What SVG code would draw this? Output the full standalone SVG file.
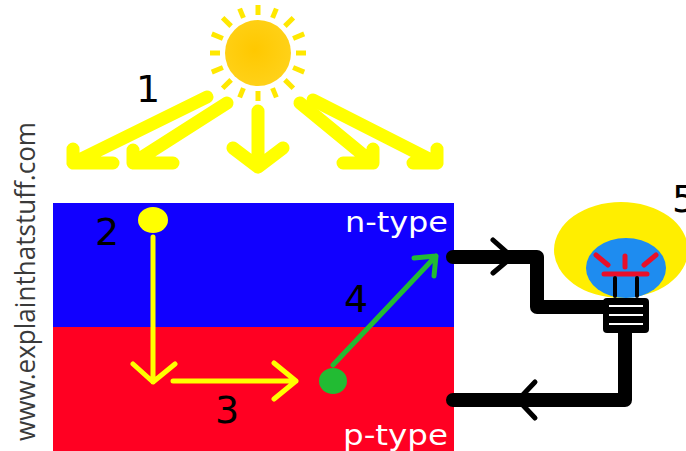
<svg xmlns="http://www.w3.org/2000/svg" width="686" height="451" viewBox="0 0 686 451">
  <defs>
    <radialGradient id="sunFill" cx="0.45" cy="0.45" r="0.6">
      <stop offset="0" stop-color="#FFC800"/>
      <stop offset="1" stop-color="#FFD21A"/>
    </radialGradient>
    <style>
      .num { font-family: "DejaVu Sans", "Liberation Sans", sans-serif; font-size: 38px; fill: #000; }
      .type { font-family: "DejaVu Sans", "Liberation Sans", sans-serif; font-size: 28px; fill: #fff; }
      .beam { fill: none; stroke: #FFFF00; stroke-width: 13; stroke-linecap: round; stroke-linejoin: round; }
      .ray { stroke: #FFE800; stroke-width: 5; }
      .path-y { fill: none; stroke: #FFFF00; stroke-width: 5; stroke-linecap: round; stroke-linejoin: round; }
      .path-g { fill: none; stroke: #22BB33; stroke-width: 5; stroke-linecap: round; stroke-linejoin: round; }
      .wire { fill: none; stroke: #000; stroke-width: 14; stroke-linecap: round; stroke-linejoin: round; }
      .chev { fill: none; stroke: #000; stroke-width: 5; stroke-linecap: round; stroke-linejoin: round; }
    </style>
  </defs>

  <rect width="686" height="451" fill="#fff"/>

  <!-- watermark -->
  <text x="0" y="0" transform="translate(35,441) rotate(-90)" font-family="'Open Sans', 'DejaVu Sans', sans-serif" font-size="27" fill="#3a3a3a" textLength="319" lengthAdjust="spacingAndGlyphs">www.explainthatstuff.com</text>

  <!-- sun -->
  <g id="sun">
    <g transform="translate(258,53)">
      <g class="ray">
        <line x1="0" y1="-38" x2="0" y2="-48"/>
        <line x1="0" y1="-38" x2="0" y2="-48" transform="rotate(22.5)"/>
        <line x1="0" y1="-38" x2="0" y2="-50" transform="rotate(45)"/>
        <line x1="0" y1="-38" x2="0" y2="-50" transform="rotate(67.5)"/>
        <line x1="0" y1="-38" x2="0" y2="-48" transform="rotate(90)"/>
        <line x1="0" y1="-38" x2="0" y2="-50" transform="rotate(112.5)"/>
        <line x1="0" y1="-38" x2="0" y2="-50" transform="rotate(135)"/>
        <line x1="0" y1="-38" x2="0" y2="-48" transform="rotate(157.5)"/>
        <line x1="0" y1="-38" x2="0" y2="-48" transform="rotate(180)"/>
        <line x1="0" y1="-38" x2="0" y2="-48" transform="rotate(202.5)"/>
        <line x1="0" y1="-38" x2="0" y2="-50" transform="rotate(225)"/>
        <line x1="0" y1="-38" x2="0" y2="-50" transform="rotate(247.5)"/>
        <line x1="0" y1="-38" x2="0" y2="-48" transform="rotate(270)"/>
        <line x1="0" y1="-38" x2="0" y2="-50" transform="rotate(292.5)"/>
        <line x1="0" y1="-38" x2="0" y2="-50" transform="rotate(315)"/>
        <line x1="0" y1="-38" x2="0" y2="-48" transform="rotate(337.5)"/>
      </g>
      <circle r="33" fill="url(#sunFill)"/>
    </g>
  </g>

  <!-- sunlight beams -->
  <g id="beams" class="beam">
    <path d="M207,97 L73,163 M73,149 L73,163 L113,163"/>
    <path d="M227,103 L133,163 M133,150 L133,163 L173,163"/>
    <path d="M258,111 L258,167 M233,148 L258,167 L283,148"/>
    <path d="M300,103 L373,163 M343,163 L373,163 L373,149"/>
    <path d="M313,100 L437,163 M413,163 L437,163 L437,149"/>
  </g>
  <text class="num" x="136" y="102">1</text>

  <!-- solar cell layers -->
  <g id="n-layer">
    <rect x="53" y="203" width="401" height="125" fill="#1100FF"/>
    <text class="type" x="448" y="232" text-anchor="end" textLength="103" lengthAdjust="spacingAndGlyphs">n-type</text>
  </g>
  <g id="p-layer">
    <rect x="53" y="327" width="401" height="124" fill="#FF0022"/>
    <text class="type" x="448" y="445" text-anchor="end" textLength="105" lengthAdjust="spacingAndGlyphs">p-type</text>
  </g>

  <!-- charge carrier paths -->
  <g id="carriers">
    <ellipse id="electron" cx="153" cy="220" rx="15" ry="13" fill="#FFFF00"/>
    <path class="path-y" d="M153,237 L153,382 M133,364 L153,382 L175,364"/>
    <path class="path-y" d="M173,381 L296,381 M274,363 L296,381 L274,399"/>
    <ellipse id="hole" cx="333" cy="381" rx="14" ry="13" fill="#22BB33"/>
    <path class="path-g" d="M333,365 L436,256 M414,258 L436,256 L434,276"/>
    <text class="num" x="95" y="245">2</text>
    <text class="num" x="215" y="423">3</text>
    <text class="num" x="344" y="312">4</text>
  </g>

  <!-- external circuit -->
  <g id="circuit">
    <path class="wire" d="M453,257 L537,257 L537,307 L605,307"/>
    <path class="chev" d="M493,240 L512,257 L493,273"/>
    <path class="wire" d="M625,333 L625,400 L453,400"/>
    <path class="chev" d="M535,382 L518,400 L535,418"/>
  </g>

  <!-- lamp -->
  <g id="lamp">
    <ellipse cx="621" cy="250" rx="67" ry="48" fill="#FFEE00"/>
    <ellipse cx="626" cy="268" rx="40" ry="30" fill="#1E8CF0"/>
    <g stroke="#E8102A" stroke-width="5" stroke-linecap="round">
      <line x1="604" y1="274" x2="647" y2="274"/>
      <line x1="596" y1="255" x2="608" y2="265"/>
      <line x1="625" y1="256" x2="625" y2="267"/>
      <line x1="656" y1="255" x2="644" y2="265"/>
    </g>
    <g stroke="#000" stroke-width="4" stroke-linecap="round">
      <line x1="615" y1="278" x2="615" y2="296"/>
      <line x1="637" y1="278" x2="637" y2="296"/>
    </g>
    <rect x="603" y="298" width="46" height="35" rx="4" fill="#000"/>
    <g stroke="#fff" stroke-width="2">
      <line x1="609" y1="306" x2="643" y2="306"/>
      <line x1="609" y1="315" x2="643" y2="315"/>
      <line x1="609" y1="324" x2="643" y2="324"/>
    </g>
    <text class="num" x="672" y="212" font-size="34">5</text>
  </g>
</svg>
